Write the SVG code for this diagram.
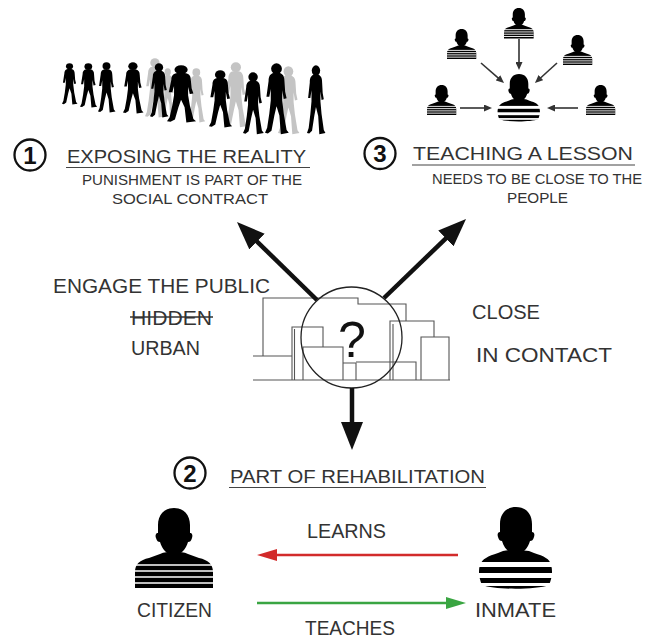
<svg xmlns="http://www.w3.org/2000/svg" xmlns:xlink="http://www.w3.org/1999/xlink" width="646" height="641" viewBox="0 0 646 641">
  <style>
    .t { font-family: "Liberation Sans", Arial, sans-serif; fill: #333; }
    .big { font-size: 20px; }
    .title { font-size: 18px; }
    .sub { font-size: 14.5px; }
    .num { font-family: "Liberation Sans", Arial, sans-serif; font-weight: bold; font-size: 24px; fill: #111; text-anchor: middle; }
    .badge { fill: none; stroke: #111; stroke-width: 2.3; }
    .uline { stroke: #444; stroke-width: 1.2; }
    .ink { fill: #000; stroke: none; }
    .shade { fill: #c4c4c4; }
    .stripes line { stroke: #fff; }
    .bld { fill: none; stroke: #555; stroke-width: 1.1; }
    .bigArrow { stroke: #111; stroke-width: 4.5; fill: none; }
    .smallArrow { stroke: #333; stroke-width: 1.6; fill: none; }
  </style>
  <defs>
    <marker id="headBig" markerUnits="userSpaceOnUse" markerWidth="28" markerHeight="22" viewBox="0 0 28 22" refX="8.4" refY="11" orient="auto">
      <path d="M0,0 L28,11 L0,22 Z" fill="#111"/>
    </marker>
    <marker id="headSmall" markerUnits="userSpaceOnUse" markerWidth="8" markerHeight="7" viewBox="0 0 8 7" refX="2" refY="3.5" orient="auto">
      <path d="M0,0 L8,3.5 L0,7 Z" fill="#333"/>
    </marker>
    <marker id="headRed" markerUnits="userSpaceOnUse" markerWidth="20" markerHeight="12" viewBox="0 0 20 12" refX="4" refY="6" orient="auto">
      <path d="M0,0 L20,6 L0,12 Z" fill="#d22b2b"/>
    </marker>
    <marker id="headGreen" markerUnits="userSpaceOnUse" markerWidth="20" markerHeight="12" viewBox="0 0 20 12" refX="4" refY="6" orient="auto">
      <path d="M0,0 L20,6 L0,12 Z" fill="#3aa542"/>
    </marker>

    <!-- walking figure, 33 x 100 box -->
    <g id="walker">
      <circle cx="16" cy="8" r="7.5"/>
      <path d="M12,14 L20,14 C25,15 27,19 27,25 L28,40 L30,49 L26,50 L24,38 L24,52 L26,70 L30,93 L33,97 L22,99 L20,73 L16,60 L13,73 L9,94 L4,98 L0,97 L3,90 L6,70 L8,52 L8,36 L6,47 L2,47 L5,25 C5,19 7,15 12,14 Z"/>
    </g>

    <!-- head-and-shoulders bust with thin stripes, 78 x 80 box -->
    <g id="bust">
      <path class="ink" d="M0,80 L0,64 C0,56 5,52 14,50 L25,46 C29,44 33,44 39,44 C45,44 49,44 53,46 L64,50 C73,52 78,56 78,64 L78,80 Z"/>
      <path class="ink" d="M39,0 C29,0 23,7 23,17 L23,25 C21,25 20,27 21,30 C22,33 23,34 25,34 C27,41 32,47 39,47 C46,47 51,41 53,34 C55,34 56,33 57,30 C58,27 57,25 55,25 L55,17 C55,7 49,0 39,0 Z"/>
      <g class="stripes">
        <line x1="0" y1="57" x2="78" y2="57"/>
        <line x1="0" y1="63" x2="78" y2="63"/>
        <line x1="0" y1="69" x2="78" y2="69"/>
        <line x1="0" y1="75" x2="78" y2="75"/>
      </g>
    </g>

    <!-- bust with wide prison stripes, 75 x 81 box -->
    <g id="convict">
      <path class="ink" d="M4,78 C1,71 0,64 2,58 C4,52 10,49 20,46 L25,44 C30,43 46,43 51,44 L56,46 C66,49 72,52 73,58 C75,64 74,71 71,78 C58,83 17,83 4,78 Z"/>
      <path class="ink" d="M38,0 C28,0 22,7 22,17 L22,25 C20,25 19,27 20,30 C21,33 22,34 24,34 C26,41 31,47 38,47 C45,47 50,41 52,34 C54,34 55,33 56,30 C57,27 56,25 54,25 L54,17 C54,7 48,0 38,0 Z"/>
      <rect x="0" y="55" width="75" height="5" fill="#fff"/>
      <rect x="0" y="66" width="75" height="5" fill="#fff"/>
      <rect x="0" y="76" width="75" height="3" fill="#fff"/>
    </g>
  </defs>

  <rect width="646" height="641" fill="#fff"/>

  <!-- crowd of walkers -->
  <g id="crowd">
    <g class="shade">
      <use xlink:href="#walker" transform="translate(145,58) scale(0.62,0.6)"/>
      <use xlink:href="#walker" transform="translate(161,68) scale(0.42,0.5)"/>
      <use xlink:href="#walker" transform="translate(188,68) scale(0.52,0.55)"/>
      <use xlink:href="#walker" transform="translate(225,62) scale(0.68,0.66)"/>
      <use xlink:href="#walker" transform="translate(278,66) scale(0.65,0.69)"/>
    </g>
    <g class="ink">
      <use xlink:href="#walker" transform="translate(62,63) scale(0.47,0.42)"/>
      <use xlink:href="#walker" transform="translate(80,63) scale(0.52,0.45)"/>
      <use xlink:href="#walker" transform="translate(98,62) scale(0.53,0.51)"/>
      <use xlink:href="#walker" transform="translate(123,62) scale(0.62,0.52)"/>
      <use xlink:href="#walker" transform="translate(150,63) scale(0.56,0.55)"/>
      <use xlink:href="#walker" transform="translate(167,65) scale(0.88,0.58)"/>
      <use xlink:href="#walker" transform="translate(209,70) scale(0.7,0.58)"/>
      <use xlink:href="#walker" transform="translate(243,72) scale(0.63,0.63)"/>
      <use xlink:href="#walker" transform="translate(265,63) scale(0.72,0.72)"/>
      <use xlink:href="#walker" transform="translate(307,65) scale(0.56,0.7)"/>
    </g>
  </g>

  <!-- community around one inmate -->
  <g id="community">
    <use xlink:href="#bust" transform="translate(504,8) scale(0.38)" style="stroke-width:2.4"/>
    <use xlink:href="#bust" transform="translate(447,29) scale(0.375)" style="stroke-width:2.4"/>
    <use xlink:href="#bust" transform="translate(563,35) scale(0.375)" style="stroke-width:2.4"/>
    <use xlink:href="#bust" transform="translate(427,85) scale(0.375)" style="stroke-width:2.4"/>
    <use xlink:href="#bust" transform="translate(586,85) scale(0.375)" style="stroke-width:2.4"/>
    <use xlink:href="#convict" transform="translate(497,74) scale(0.58)"/>
  </g>

  <!-- section 1 -->
  <g id="exposing">
    <circle class="badge" cx="30" cy="155" r="15.5"/>
    <text class="num" x="30" y="163.5">1</text>
    <text class="t title" x="67" y="162.5" textLength="239" lengthAdjust="spacingAndGlyphs">EXPOSING THE  REALITY</text>
    <line class="uline" x1="66" y1="167.5" x2="310" y2="167.5"/>
    <text class="t sub" x="82" y="184.5" textLength="220" lengthAdjust="spacingAndGlyphs">PUNISHMENT IS PART OF THE</text>
    <text class="t sub" x="112" y="203.5" textLength="156" lengthAdjust="spacingAndGlyphs">SOCIAL CONTRACT</text>
  </g>

  <!-- section 3 -->
  <g id="lesson">
    <circle class="badge" cx="380" cy="153.5" r="15.5"/>
    <text class="num" x="380" y="162">3</text>
    <text class="t title" x="413" y="159.5" textLength="220" lengthAdjust="spacingAndGlyphs">TEACHING A LESSON</text>
    <line class="uline" x1="412" y1="165" x2="635" y2="165"/>
    <text class="t sub" x="432" y="183.5" textLength="210" lengthAdjust="spacingAndGlyphs">NEEDS TO BE CLOSE TO THE</text>
    <text class="t sub" x="507" y="202.5" textLength="61" lengthAdjust="spacingAndGlyphs">PEOPLE</text>
  </g>

  <!-- side labels -->
  <g id="public">
    <text class="t big" x="53" y="293" textLength="217" lengthAdjust="spacingAndGlyphs">ENGAGE THE PUBLIC</text>
    <text class="t big" x="131" y="325" textLength="81" lengthAdjust="spacingAndGlyphs">HIDDEN</text>
    <line x1="130" y1="317" x2="213" y2="317" stroke="#333" stroke-width="1.5"/>
    <text class="t big" x="131" y="355" textLength="69" lengthAdjust="spacingAndGlyphs">URBAN</text>
  </g>
  <g id="contact">
    <text class="t big" x="472" y="319" textLength="68" lengthAdjust="spacingAndGlyphs">CLOSE</text>
    <text class="t big" x="476" y="362" textLength="136" lengthAdjust="spacingAndGlyphs">IN CONTACT</text>
  </g>

  <!-- city block under the lens -->
  <g id="city">
    <line class="bld" x1="253" y1="380" x2="450" y2="380"/>
    <line class="bld" x1="253" y1="356" x2="292" y2="356"/>
    <polyline class="bld" points="263,356 263,298 358,298 358,304 406,304 406,321"/>
    <polyline class="bld" points="390,380 390,321 434,321 434,337"/>
    <line class="bld" x1="393" y1="324" x2="393" y2="380"/>
    <polyline class="bld" points="421,380 421,337 449,337 449,380"/>
    <polyline class="bld" points="292,380 292,327 323,327 323,347"/>
    <line class="bld" x1="294.5" y1="329" x2="294.5" y2="380"/>
    <polyline class="bld" points="303,380 303,347 343,347 343,380"/>
    <polyline class="bld" points="343,363 356,363 356,380"/>
    <polyline class="bld" points="356,362 416,362 416,380"/>
    <circle cx="351.5" cy="337.5" r="50.5" fill="none" stroke="#222" stroke-width="1.3"/>
    <text x="352" y="357" text-anchor="middle" font-family="Liberation Sans, Arial, sans-serif" font-size="50" fill="#111">?</text>
  </g>

  <!-- section 2 -->
  <g id="rehab">
    <circle class="badge" cx="190" cy="473" r="15.5"/>
    <text class="num" x="190" y="481.5">2</text>
    <text class="t title" x="230" y="482.5" textLength="255" lengthAdjust="spacingAndGlyphs">PART OF REHABILITATION</text>
    <line class="uline" x1="229" y1="487.5" x2="486" y2="487.5"/>
  </g>

  <g id="citizen">
    <use xlink:href="#bust" transform="translate(135,508)" style="stroke-width:1.3"/>
    <text class="t big" x="137" y="617" textLength="75" lengthAdjust="spacingAndGlyphs">CITIZEN</text>
  </g>
  <g id="inmate">
    <use xlink:href="#convict" transform="translate(478,507)"/>
    <text class="t big" x="475" y="617" textLength="81" lengthAdjust="spacingAndGlyphs">INMATE</text>
  </g>

  <g id="exchange-labels">
    <text class="t big" x="307" y="538" textLength="79" lengthAdjust="spacingAndGlyphs">LEARNS</text>
    <text class="t big" x="305" y="635" textLength="90" lengthAdjust="spacingAndGlyphs">TEACHES</text>
  </g>

  <!-- connectors -->
  <g id="connectors">
    <line class="bigArrow" x1="317" y1="300" x2="251" y2="235.7" marker-end="url(#headBig)"/>
    <line class="bigArrow" x1="384" y1="298" x2="451.9" y2="232.6" marker-end="url(#headBig)"/>
    <line class="bigArrow" x1="352" y1="388" x2="352" y2="430.4" marker-end="url(#headBig)"/>

    <line class="smallArrow" x1="519" y1="39" x2="519" y2="64" marker-end="url(#headSmall)"/>
    <line class="smallArrow" x1="481" y1="63" x2="499.5" y2="79.1" marker-end="url(#headSmall)"/>
    <line class="smallArrow" x1="557" y1="63" x2="539.4" y2="79" marker-end="url(#headSmall)"/>
    <line class="smallArrow" x1="460" y1="108" x2="486" y2="108" marker-end="url(#headSmall)"/>
    <line class="smallArrow" x1="578" y1="108" x2="553" y2="108" marker-end="url(#headSmall)"/>

    <line x1="458" y1="555" x2="273" y2="555" stroke="#d22b2b" stroke-width="2.5" marker-end="url(#headRed)"/>
    <line x1="257" y1="603" x2="450" y2="603" stroke="#3aa542" stroke-width="2.5" marker-end="url(#headGreen)"/>
  </g>
</svg>
